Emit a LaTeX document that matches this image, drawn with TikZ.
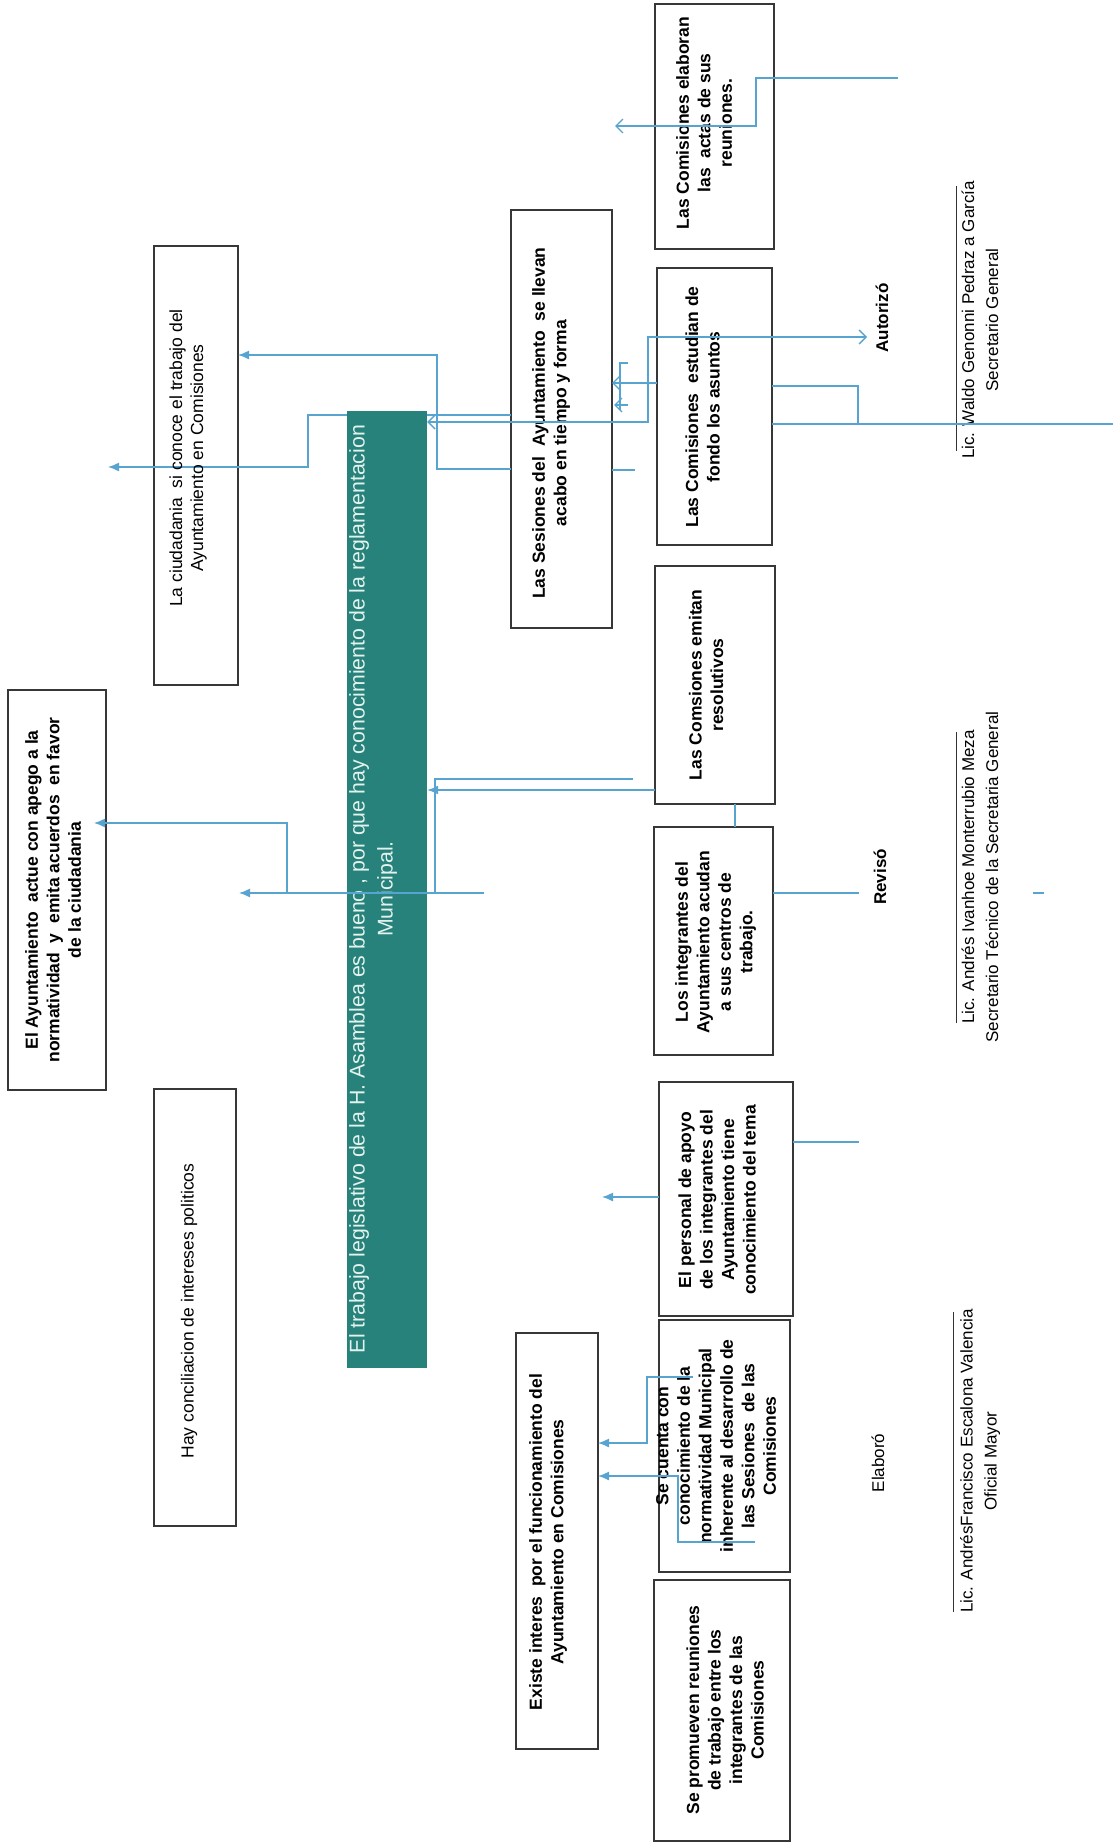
\documentclass[tikz,border=0pt]{standalone}
\usepackage{fontspec}
\setmainfont{Liberation Sans}
\usetikzlibrary{arrows.meta}
\definecolor{linec}{RGB}{88,164,208}
\definecolor{boxc}{RGB}{55,55,55}
\definecolor{tealbox}{RGB}{38,130,122}
\definecolor{txtg}{RGB}{228,242,238}
\begin{document}
\begin{tikzpicture}[x=1pt,y=-1pt,
  box/.style={draw=boxc,line width=1.3pt,inner sep=0pt,outer sep=0pt},
  bt/.style={rotate=90,align=center,inner sep=0pt,font=\bfseries\fontsize{17.5}{21.5}\selectfont},
  rt/.style={rotate=90,align=center,inner sep=0pt,font=\fontsize{17.5}{21}\selectfont},
  st/.style={rotate=90,align=center,inner sep=0pt,font=\fontsize{17}{24}\selectfont},
  con/.style={draw=linec,line width=1.4pt},
  fa/.style={-{Latex[length=11pt,width=9pt]}},
  oa/.style={-{Straight Barb[length=7pt,width=14pt]}},
  ao/.style={{Straight Barb[length=7pt,width=14pt]}-{Straight Barb[length=7pt,width=14pt]}},
  sig/.style={draw=black!80,line width=1pt}]
\path[use as bounding box,fill=white] (0,0) rectangle (1113,1844);

% boxes
\node[box,minimum width=84pt,minimum height=439pt] (ciud) at (196,465.5) {};
\node[box,minimum width=98pt,minimum height=400pt] (ayunt) at (57,890) {};
\node[box,minimum width=82pt,minimum height=437pt] (hay) at (195,1307.5) {};
\node[box,minimum width=101pt,minimum height=418pt] (sesiones) at (561.5,419) {};
\node[box,minimum width=82pt,minimum height=416pt] (existe) at (557,1541) {};
\node[box,minimum width=119pt,minimum height=245pt] (elaboran) at (714.5,126.5) {};
\node[box,minimum width=115pt,minimum height=277pt] (estudian) at (714.5,406.5) {};
\node[box,minimum width=120pt,minimum height=238pt] (emitan) at (715,685) {};
\node[box,minimum width=119pt,minimum height=228pt] (integr) at (713.5,941) {};
\node[box,minimum width=134pt,minimum height=234pt] (personal) at (726,1199) {};
\node[box,minimum width=131pt,minimum height=252pt] (secuenta) at (724.5,1446) {};
\node[box,minimum width=136pt,minimum height=261pt] (promueven) at (722,1710.5) {};

% connector passing behind the green box
\coordinate (bEnd) at (108,467);
\draw[con,fa] (sesiones.west |- 0,415) -| (308,467) -- (bEnd);

% green box
\node[fill=tealbox,minimum width=80pt,minimum height=957pt,inner sep=0pt] (green) at (387,889.5) {};
\node[rotate=90,align=center,inner sep=0pt,text=txtg,font=\fontsize{21.3}{28}\selectfont] (tgreen) at (373,889)
  {El trabajo legislativo de la H. Asamblea es bueno , por que hay conocimiento de la reglamentacion\\Municipal.};

% box texts
\node[rt] (tciud) at (188,458) {La ciudadania\ \ si conoce el trabajo del\\Ayuntamiento en Comisiones};
\node[bt] (tayunt) at (53,890) {El Ayuntamiento\ \ actue con apego a la\\normatividad\ \ y\ \ emita acuerdos\ \ en favor\\de la ciudadania};
\node[rt] (thay) at (189,1311) {Hay conciliacion de intereses politicos};
\node[bt] (tsesiones) at (551,423) {Las Sesiones del\ \ Ayuntamiento\ \ se llevan\\acabo en tiempo y forma};
\node[bt] (texiste) at (548,1542) {Existe interes\ \ por el funcionamiento del\\Ayuntamiento en Comisiones};
\node[bt] (telaboran) at (704,123) {Las Comisiones elaboran\\las\ \ actas de sus\\reuniones.};
\node[bt] (testudian) at (702.5,407) {Las Comisiones\ \ estudian de\\fondo los asuntos};
\node[bt] (temitan) at (706,685) {Las Comsiones emitan\\resolutivos};
\node[bt] (tintegr) at (715.5,942) {Los integrantes del\\Ayuntamiento acudan\\a sus centros de\\trabajo.};
\node[bt] (tpersonal) at (717,1200) {El personal de apoyo\\de los integrantes del\\Ayuntamiento tiene\\conocimiento del tema};
\node[bt] (tsecuenta) at (716,1446) {Se cuenta con\\conocimiento de la\\normatividad Municipal\\inherente al desarrollo de\\las Sesiones\ \ de las\\Comisiones};
\node[bt] (tpromueven) at (725,1710) {Se promueven reuniones\\de trabajo entre los\\integrantes de las\\Comisiones};

% signature block
\node[bt,font=\bfseries\fontsize{17}{21}\selectfont] (autz) at (882,318) {Autorizó};
\node[bt,font=\bfseries\fontsize{17}{21}\selectfont] (revs) at (880,877) {Revisó};
\node[st] (elab) at (878,1463) {Elaboró};
\draw[sig] (956,186) -- (956,451);
\draw[sig] (956,732) -- (956,1023);
\draw[sig] (953,1312) -- (953,1612);
\node[st] (sig1) at (980,320) {Lic. Waldo Genonni Pedraz a García\\Secretario General};
\node[st] (sig2) at (980,877) {Lic. Andrés Ivanhoe Monterrubio Meza\\Secretario Técnico de la Secretaria General};
\node[st] (sig3) at (980,1461) {Lic. AndrésFrancisco Escalona Valencia\\Oficial Mayor};

% connectors
\draw[con,fa] (sesiones.west |- 0,469) -| (437,355) -- (ciud.east |- 0,355);
\coordinate (cEnd) at (867,337);
\draw[con,ao] (green.east |- 0,422) -| (648,337) -- (cEnd);
\draw[con,fa] (emitan.west |- 0,790) -- (green.east |- 0,790);
\coordinate (e0) at (633,779);
\draw[con] (e0) -| (435,893);
\coordinate (e1) at (484,893);
\coordinate (e2) at (239,893);
\draw[con,fa] (e1) -- (e2);
\coordinate (eA) at (94,823);
\draw[con,fa] (287,893) |- (eA);
\draw[con] (integr.east |- 0,893) -- (859,893);
\draw[con] (personal.east |- 0,1142) -- (859,1142);
\draw[con] (1033,893) -- (1044,893);
\draw[con] (emitan.south -| 735,0) -- (integr.north -| 735,0);
\coordinate (h0) at (898,78);
\coordinate (h1) at (615,126);
\draw[con,oa] (h0) -- (756,78) -- (756,126) -- (h1);
\draw[con,oa] (estudian.west |- 0,383) -- (sesiones.east |- 0,383);
\draw[con] (628,363) -- (620,363) -- (620,410);
\draw[con,oa] (628,405) -- (614,405);
\coordinate (jEnd) at (1113,424);
\draw[con] (estudian.east |- 0,424) -- (jEnd);
\draw[con] (estudian.east |- 0,386) -| (858,424);
\draw[con] (sesiones.east |- 0,470) -- (635,470);
\coordinate (lEnd) at (602,1197);
\draw[con,fa] (personal.west |- 0,1197) -- (lEnd);
\draw[con,fa] (693,1377) -| (647,1443) -- (existe.east |- 0,1443);
\draw[con,fa] (755,1542) -| (678,1476) -- (existe.east |- 0,1476);
\end{tikzpicture}
\end{document}
